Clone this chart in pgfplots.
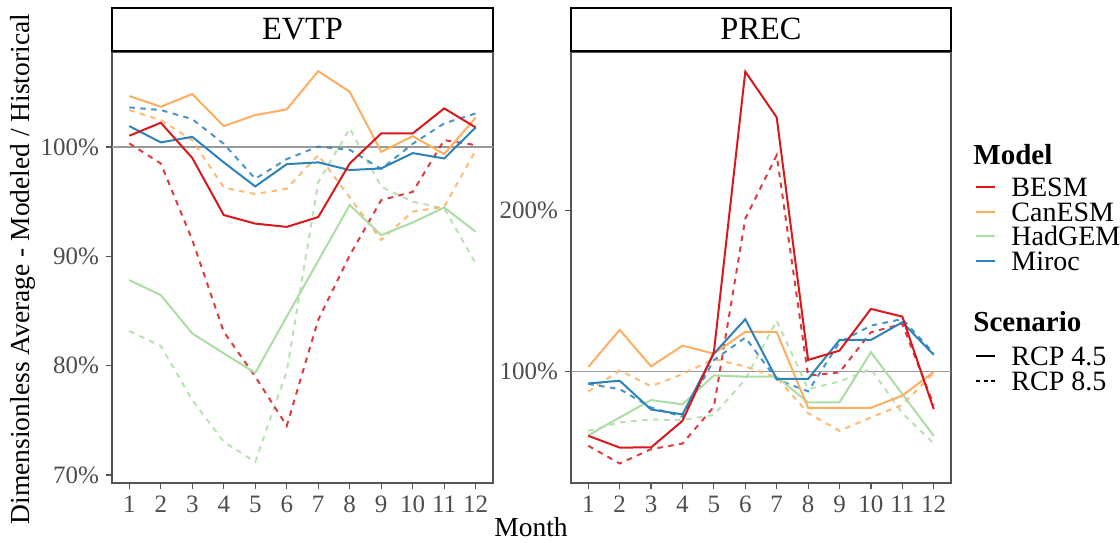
\documentclass[border=0pt]{standalone}
\usepackage{pgfplots}
\pgfplotsset{compat=1.18}
\usepackage{pgfplotstable}
\usepackage{fontspec}
\setmainfont{Liberation Serif}
\definecolor{besm}{HTML}{D7191C}
\definecolor{canesm}{HTML}{FDAE61}
\definecolor{hadgem}{HTML}{ABDDA4}
\definecolor{miroc}{HTML}{2B83BA}
\definecolor{panelgray}{HTML}{555555}
\definecolor{tickgray}{HTML}{4D4D4D}
\definecolor{refgray}{HTML}{9A9A9A}

\pgfplotstableread{
m B45 B85 C45 C85 H45 H85 M45 M85
1 101.04 100.34 104.67 103.39 87.83 83.17 101.92 103.63
2 102.23 98.5 103.69 102.47 86.46 81.8 100.43 103.39
3 99.0 91.5 104.85 100.64 82.95 76.85 100.94 102.56
4 93.78 83.1 101.92 96.3 81.13 73.04 98.6 100.3
5 93.0 79.0 102.93 95.7 79.35 71.2 96.4 97.1
6 92.7 74.5 103.45 96.2 84.5 79.5 98.44 98.9
7 93.6 84.2 106.95 99.27 89.6 96.8 98.6 100.05
8 98.5 90.1 105.06 95.4 94.7 101.7 97.9 99.75
9 101.25 95.15 99.57 91.5 91.95 96.37 98.05 98.0
10 101.25 95.9 101.0 94.1 93.1 95.0 99.45 100.3
11 103.54 100.64 99.36 94.54 94.48 94.39 98.96 102.17
12 101.8 100.18 102.7 99.7 92.25 89.36 101.8 103.08
}\evtp

\pgfplotstableread{
m B45 B85 C45 C85 H45 H85 M45 M85
1 60.0 53.8 102.7 87.5 60.3 63.1 92.5 92.2
2 52.7 42.8 125.8 100.6 71.4 68.3 94.2 89.0
3 52.8 51.7 103.1 90.8 82.2 70.1 76.3 77.6
4 69.3 55.2 116.0 98.3 79.5 69.8 73.3 71.8
5 112.0 78.0 111.0 107.7 97.5 73.0 111.0 107.0
6 286.1 194.8 124.5 103.0 96.7 95.0 132.4 121.0
7 257.7 234.2 124.5 96.3 96.7 131.5 95.3 95.0
8 107.1 97.3 77.4 74.0 80.7 89.0 95.3 87.6
9 112.9 99.4 77.4 63.1 80.7 93.7 119.5 118.0
10 138.8 124.3 77.4 71.4 111.9 101.5 119.5 128.4
11 134.0 129.5 84.9 79.2 86.0 74.0 130.5 132.5
12 76.6 79.0 99.7 99.0 60.0 55.3 110.3 111.3
}\prec

\pgfplotsset{
  panel/.style={
    scale only axis, height=215.5pt, anchor=south west,
    axis line style={draw=panelgray, line width=0.75pt},
    tick align=outside, major tick length=3pt,
    tick style={draw=panelgray, line width=0.6pt},
    xtick pos=bottom, ytick pos=left,
    ticklabel style={font=\fontsize{12.5}{12.5}\selectfont, text=tickgray},
    /pgf/number format/assume math mode=true,
    xmin=0.45, xmax=12.55, xtick={1,...,12},
    xticklabels={1,2,3,4,5,6,7,8,9,10,11,12},
    every axis plot/.append style={line width=1pt},
  },
  sol/.style={solid},
  das/.style={dash pattern=on 2.75pt off 2.75pt, opacity=0.85},
  leg/.style={
    legend style={draw=none, fill=none, inner xsep=0pt, inner ysep=0pt,
      anchor=north west, row sep=2.7pt, column sep=7.5pt,
      nodes={inner sep=0pt, text height=9.5pt, text depth=0pt,
        font=\fontsize{14}{14}\selectfont}},
    legend cell align=left,
    legend image code/.code={\draw[##1, line width=1pt] (0pt,0pt) -- (9.5pt,0pt);},
  },
}

\begin{document}
\begin{tikzpicture}
\useasboundingbox (0,0) rectangle (560pt,271pt);

% ---------- EVTP ----------
\begin{axis}[panel, at={(56pt,29.5pt)}, width=190.5pt,
  ymin=69.27, ymax=108.7, ytick={70,80,90,100},
  yticklabels={70\%,80\%,90\%,100\%}]
\addplot[refgray, line width=0.6pt, forget plot] coordinates {(0.45,100) (12.55,100)};
\addplot[hadgem, das, forget plot] table[x=m, y=H85] {\evtp};
\addplot[canesm, das, forget plot] table[x=m, y=C85] {\evtp};
\addplot[miroc, das, forget plot] table[x=m, y=M85] {\evtp};
\addplot[besm, das, forget plot] table[x=m, y=B85] {\evtp};
\addplot[hadgem, sol, forget plot] table[x=m, y=H45] {\evtp};
\addplot[canesm, sol, forget plot] table[x=m, y=C45] {\evtp};
\addplot[miroc, sol, forget plot] table[x=m, y=M45] {\evtp};
\addplot[besm, sol, forget plot] table[x=m, y=B45] {\evtp};
\end{axis}

% ---------- PREC ----------
\begin{axis}[panel, leg, at={(285.5pt,29.5pt)}, width=190pt,
  ymin=30.7, ymax=298.3, ytick={100,200},
  yticklabels={100\%,200\%},
  legend style={at={(1.0632,0.7088)}}]
\addplot[refgray, line width=0.6pt, forget plot] coordinates {(0.45,100) (12.55,100)};
\addplot[hadgem, das, forget plot] table[x=m, y=H85] {\prec};
\addplot[canesm, das, forget plot] table[x=m, y=C85] {\prec};
\addplot[miroc, das, forget plot] table[x=m, y=M85] {\prec};
\addplot[besm, das, forget plot] table[x=m, y=B85] {\prec};
\addplot[hadgem, sol, forget plot] table[x=m, y=H45] {\prec};
\addplot[canesm, sol, forget plot] table[x=m, y=C45] {\prec};
\addplot[miroc, sol, forget plot] table[x=m, y=M45] {\prec};
\addplot[besm, sol, forget plot] table[x=m, y=B45] {\prec};
\addlegendimage{besm}\addlegendentry{BESM}
\addlegendimage{canesm}\addlegendentry{CanESM}
\addlegendimage{hadgem}\addlegendentry{HadGEM}
\addlegendimage{miroc}\addlegendentry{Miroc}
\end{axis}

% ---------- Scenario legend (dummy axis) ----------
\begin{axis}[scale only axis, anchor=south west, at={(285.5pt,29.5pt)},
  width=190pt, height=215.5pt, hide axis, leg,
  xmin=0, xmax=1, ymin=0, ymax=1,
  legend style={at={(1.0632,0.3167)}}]
\addlegendimage{black}\addlegendentry{RCP 4.5}
\addlegendimage{black, dash pattern=on 2pt off 1.75pt}\addlegendentry{RCP 8.5}
\end{axis}

% strips
\draw[black, line width=1pt, fill=white] (56pt,245.5pt) rectangle (246.5pt,267pt);
\draw[black, line width=1pt, fill=white] (285.5pt,245.5pt) rectangle (475.5pt,267pt);
\node[anchor=base, font=\fontsize{16.2}{16.2}\selectfont] at (151.25pt,251pt) {EVTP};
\node[anchor=base, font=\fontsize{16.2}{16.2}\selectfont] at (380.5pt,251pt) {PREC};

% axis titles
\node[anchor=base, font=\fontsize{13.75}{13.75}\selectfont] at (265.5pt,3pt) {Month};
\node[anchor=base, rotate=90, font=\fontsize{13.75}{13.75}\selectfont] at (14.5pt,136.5pt) {Dimensionless Average - Modeled / Historical};

% legend titles
\node[anchor=base west, inner sep=0pt, font=\fontsize{14.5}{14.5}\selectfont\bfseries] at (486.5pt,188.7pt) {Model};
\node[anchor=base west, inner sep=0pt, font=\fontsize{14.5}{14.5}\selectfont\bfseries] at (486.5pt,105.2pt) {Scenario};
\end{tikzpicture}
\end{document}
